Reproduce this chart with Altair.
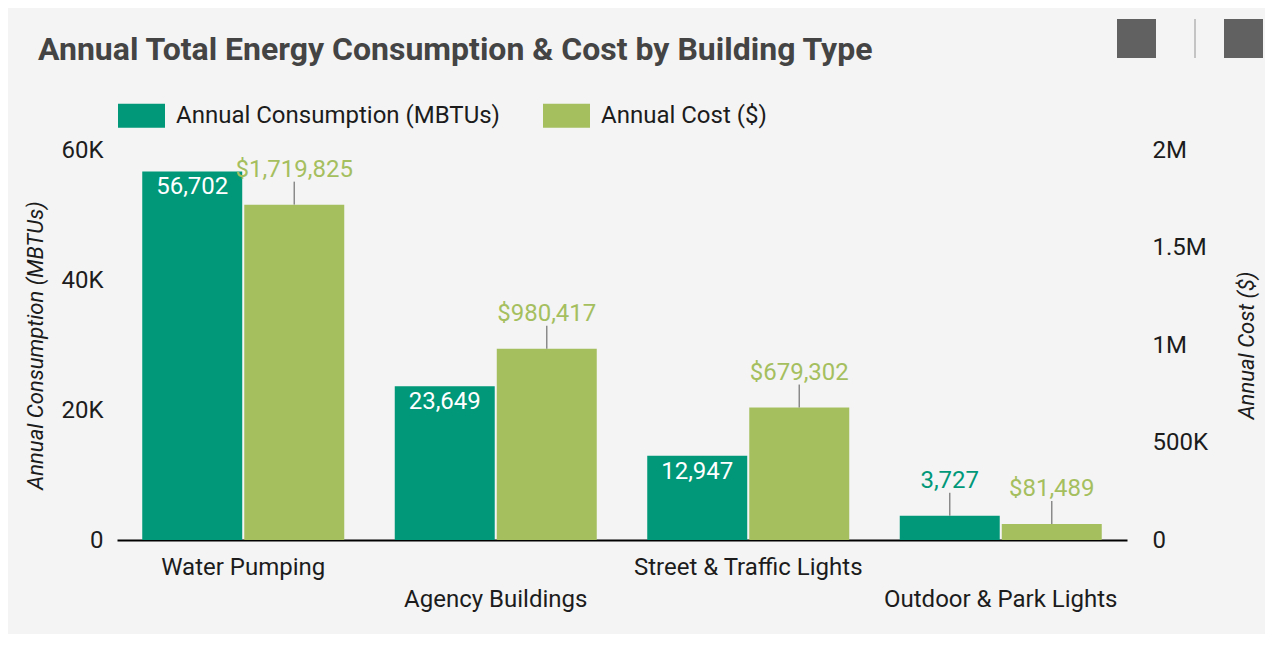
import json
import altair as alt
import pandas as pd

# ---------------- data ----------------
categories = ["Water Pumping", "Agency Buildings", "Street & Traffic Lights", "Outdoor & Park Lights"]
consumption = [56702, 23649, 12947, 3727]
cost = [1719825, 980417, 679302, 81489]
series_names = ["Annual Consumption (MBTUs)", "Annual Cost ($)"]
series_colors = ["#009879", "#a5bf5f"]
left_ticks = [0, 20000, 40000, 60000]
right_ticks = [0, 500000, 1000000, 1500000, 2000000]
title_text = "Annual Total Energy Consumption & Cost by Building Type"

rows = []
for c, v1, v2 in zip(categories, consumption, cost):
    rows.append({"category": c, "series": series_names[0], "value": v1})
    rows.append({"category": c, "series": series_names[1], "value": v2})
df = pd.DataFrame(rows)

FONT = "Roboto"
TXT = "#1c1c1c"
LEADER = "#8a8a8a"
W, H = 1010, 390

stagger = [categories[1], categories[3]]
stagger_test = "indexof(" + json.dumps(stagger) + ", datum.value) >= 0"

x_enc = alt.X(
    "category:N", sort=categories,
    scale=alt.Scale(paddingInner=0.2, paddingOuter=0.1),
    axis=alt.Axis(
        title=None, labelAngle=0, labelFontSize=24, labelColor=TXT, labelFont=FONT,
        ticks=False, domainColor="#000000", domainWidth=2, labelLimit=0,
        labelOverlap=False,
        labelPadding={"condition": {"test": stagger_test, "value": 47}, "value": 15},
    ),
)
xoff_enc = alt.XOffset("series:N", sort=series_names,
                       scale=alt.Scale(domain=series_names, paddingInner=0.02, paddingOuter=0))
color_enc = alt.Color(
    "series:N",
    scale=alt.Scale(domain=series_names, range=series_colors),
    legend=alt.Legend(
        title=None, orient="none", direction="horizontal", legendX=1, legendY=-58,
        symbolType="M-1,-0.51H1V0.51H-1Z", symbolSize=2209, symbolStrokeWidth=0,
        labelFontSize=24, labelFont=FONT, labelColor=TXT, labelOffset=11,
        columnPadding=43, labelLimit=0,
    ),
)

k_expr = "datum.value == 0 ? '0' : replace(format(datum.value, '~s'), 'k', 'K')"

yA = alt.Y(
    "value:Q", scale=alt.Scale(domain=[0, 60000], nice=False),
    axis=alt.Axis(
        title=series_names[0], values=left_ticks, labelExpr=k_expr, grid=False, ticks=False,
        domain=False, labelFontSize=24, labelFont=FONT, labelColor=TXT, labelPadding=14,
        titleFontSize=22, titleFont=FONT, titleFontStyle="italic", titleFontWeight="normal",
        titleColor=TXT, titlePadding=13,
    ),
)
yB = alt.Y(
    "value:Q", scale=alt.Scale(domain=[0, 2000000], nice=False),
    axis=alt.Axis(
        orient="right", title=series_names[1], values=right_ticks, labelExpr=k_expr,
        grid=False, ticks=False, domain=False, labelFontSize=24, labelFont=FONT,
        labelColor=TXT, labelPadding=25, titleFontSize=22, titleFont=FONT,
        titleFontStyle="italic", titleFontWeight="normal", titleColor=TXT,
        titleAngle=270, titleBaseline="top", titlePadding=29,
    ),
)

base = alt.Chart(df)

# consumption layer
bA = base.transform_filter(alt.datum.series == series_names[0])
barsA = bA.mark_bar().encode(x=x_enc, xOffset=xoff_enc, y=yA, color=color_enc)
insideA = bA.transform_filter("datum.value >= 8000").mark_text(
    color="white", baseline="alphabetic", dy=23, fontSize=24, font=FONT
).encode(x=x_enc, xOffset=xoff_enc, y=yA, text=alt.Text("value:Q", format=","))
ruleA = bA.transform_filter("datum.value < 8000").mark_rule(
    color=LEADER, strokeWidth=1.5, y2Offset=-23
).encode(x=x_enc, xOffset=xoff_enc, y=yA, y2=alt.Y2("value:Q"))
outA = bA.transform_filter("datum.value < 8000").mark_text(
    color=series_colors[0], baseline="alphabetic", dy=-28, fontSize=24, font=FONT
).encode(x=x_enc, xOffset=xoff_enc, y=yA, text=alt.Text("value:Q", format=","))
layerA = alt.layer(barsA, insideA, ruleA, outA)

# cost layer
bB = base.transform_filter(alt.datum.series == series_names[1])
barsB = bB.mark_bar().encode(x=x_enc, xOffset=xoff_enc, y=yB, color=color_enc)
ruleB = bB.mark_rule(color=LEADER, strokeWidth=1.5, y2Offset=-23).encode(
    x=x_enc, xOffset=xoff_enc, y=yB, y2=alt.Y2("value:Q"))
outB = bB.mark_text(
    color=series_colors[1], baseline="alphabetic", dy=-28, fontSize=24, font=FONT
).encode(x=x_enc, xOffset=xoff_enc, y=yB, text=alt.Text("value:Q", format="$,"))
layerB = alt.layer(barsB, ruleB, outB)

# toolbar icons (decoration)
icon_src = alt.Data(values=[{}])
icon1 = alt.Chart(icon_src).mark_rect(color="#616161").encode(
    x=alt.value(1000), x2=alt.value(1039), y=alt.value(-131), y2=alt.value(-92))
icon2 = alt.Chart(icon_src).mark_rect(color="#616161").encode(
    x=alt.value(1107), x2=alt.value(1146), y=alt.value(-131), y2=alt.value(-92))
sep = alt.Chart(icon_src).mark_rule(color="#c4c4c4", strokeWidth=2).encode(
    x=alt.value(1078), y=alt.value(-131), y2=alt.value(-92))

chart = alt.layer(layerA, layerB, icon1, icon2, sep).resolve_scale(
    y="independent"
).properties(
    width=W, height=H,
    title=alt.TitleParams(
        title_text, anchor="start", frame="group", fontSize=32, fontWeight="bold",
        font=FONT, color="#444444", dx=-79, offset=0, dy=49,
    ),
    background="#f4f4f4",
    autosize=alt.AutoSizeParams(type="none"),
    padding={"left": 109, "top": 142, "right": 138, "bottom": 94},
).configure_view(stroke=None)

chart.save("out.html", embed_options={"renderer": "svg", "actions": False})
